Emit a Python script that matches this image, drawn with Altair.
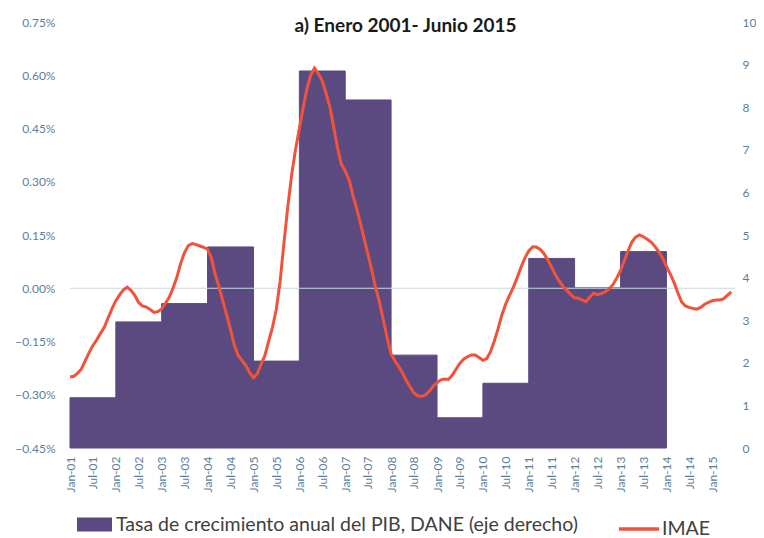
import altair as alt
import pandas as pd

# ---------------- data ----------------
bar_years = list(range(2001, 2014))
bar_values = [1.18, 2.96, 3.39, 4.72, 2.04, 8.85, 8.17, 2.18, 0.71, 1.52, 4.45, 3.76, 4.61]
bar_label = "Tasa de crecimiento anual del PIB, DANE (eje derecho)"

imae_start = (2001, 1)
imae_values = [
    -0.250, -0.248, -0.240, -0.228, -0.205, -0.182, -0.162, -0.146, -0.127, -0.110, -0.083, -0.058,
    -0.035, -0.018, -0.005, 0.003, -0.006, -0.020, -0.040, -0.050, -0.053, -0.060, -0.068, -0.066,
    -0.058, -0.042, -0.026, 0.000, 0.030, 0.070, 0.100, 0.120, 0.126, 0.123, 0.119, 0.115,
    0.110, 0.085, 0.040, 0.004, -0.035, -0.075, -0.115, -0.160, -0.190, -0.203, -0.218, -0.238,
    -0.252, -0.240, -0.215, -0.190, -0.150, -0.110, -0.060, 0.020, 0.130, 0.230, 0.320, 0.390,
    0.450, 0.510, 0.560, 0.600, 0.620, 0.605, 0.585, 0.550, 0.510, 0.455, 0.395, 0.350,
    0.330, 0.305, 0.265, 0.225, 0.185, 0.140, 0.095, 0.050, 0.000, -0.040, -0.090, -0.140,
    -0.185, -0.205, -0.220, -0.238, -0.260, -0.278, -0.295, -0.303, -0.305, -0.300, -0.290, -0.276,
    -0.266, -0.258, -0.256, -0.257, -0.245, -0.228, -0.212, -0.200, -0.193, -0.188, -0.188, -0.195,
    -0.203, -0.198, -0.180, -0.150, -0.115, -0.075, -0.045, -0.020, 0.003, 0.030, 0.060, 0.085,
    0.105, 0.117, 0.116, 0.110, 0.098, 0.080, 0.060, 0.038, 0.020, 0.005, -0.006, -0.018,
    -0.027, -0.028, -0.033, -0.038, -0.025, -0.014, -0.018, -0.015, -0.010, -0.002, 0.010, 0.028,
    0.050, 0.078, 0.105, 0.130, 0.144, 0.150, 0.145, 0.138, 0.130, 0.118, 0.103, 0.085,
    0.062, 0.040, 0.018, -0.012, -0.038, -0.050, -0.054, -0.057, -0.059, -0.054, -0.045, -0.040,
    -0.035, -0.033, -0.033, -0.030, -0.020, -0.010,
]

left_ticks = [-0.45, -0.30, -0.15, 0.00, 0.15, 0.30, 0.45, 0.60, 0.75]
right_ticks = list(range(0, 11))
zero_line = [0.0]

# ---------------- frames ----------------
bars = pd.DataFrame({
    "start": [f"{y}/01/01" for y in bar_years],
    "end": [f"{y + 1}/01/01" for y in bar_years],
    "valor": bar_values,
    "serie": bar_label,
})

dates = []
y0, m0 = imae_start
for i in range(len(imae_values)):
    mm = m0 - 1 + i
    dates.append(f"{y0 + mm // 12}/{mm % 12 + 1:02d}/01")
line = pd.DataFrame({"date": dates, "imae": imae_values, "serie": "IMAE"})
rule = pd.DataFrame({"y": zero_line})

# ---------------- style ----------------
PURPLE = "#5B4A80"
RED = "#F0533A"
AXIS_COL = "#5a7f9e"
FONT = "Lato"

x_domain = [alt.DateTime(year=2001, month=1, date=1), alt.DateTime(year=2015, month=7, date=1)]
x_ticks = [alt.DateTime(year=y, month=m, date=1)
           for y in range(2001, 2016) for m in (1, 7) if not (y == 2015 and m == 7)]


def x_axis():
    return alt.Axis(values=x_ticks, format="%b-%y", labelAngle=-90, labelAlign="right",
                    labelBaseline="middle", labelPadding=8, ticks=False, domain=False,
                    grid=False, labelFont=FONT, labelFontSize=12, labelColor=AXIS_COL,
                    labelOverlap=False, labelFlush=False, title=None)


bar_layer = alt.Chart(bars).mark_bar(color=PURPLE, stroke=PURPLE, strokeWidth=1).encode(
    x=alt.X("start:T", scale=alt.Scale(domain=x_domain), axis=x_axis()),
    x2="end:T",
    y=alt.Y("valor:Q", scale=alt.Scale(domain=[0, 10]),
            axis=alt.Axis(orient="right", values=right_ticks, title=None, ticks=False,
                          domain=False, grid=False, labelFont=FONT, labelFontSize=12,
                          labelColor=AXIS_COL, labelAlign="left", labelPadding=7)),
    y2=alt.datum(0),
    fill=alt.Fill("serie:N", scale=alt.Scale(domain=[bar_label], range=[PURPLE]),
                  legend=alt.Legend(orient="none", legendX=7, legendY=485, title=None,
                                    symbolType="M-1,-0.4H1V0.4H-1Z", symbolSize=1225,
                                    symbolStrokeWidth=0, labelFont=FONT, labelFontSize=19.5,
                                    labelColor="#404040", labelOffset=4, padding=0,
                                    labelLimit=0)),
)

rule_layer = alt.Chart(rule).mark_rule(color="#c9d6df", strokeWidth=1).encode(
    y=alt.Y("y:Q", scale=alt.Scale(domain=[-0.45, 0.75]), axis=None),
)

line_layer = alt.Chart(line).mark_line(strokeWidth=3).encode(
    x=alt.X("date:T", scale=alt.Scale(domain=x_domain), axis=x_axis()),
    y=alt.Y("imae:Q", scale=alt.Scale(domain=[-0.45, 0.75]),
            axis=alt.Axis(orient="left", values=left_ticks, title=None, ticks=False,
                          domain=False, grid=False, labelFont=FONT, labelFontSize=12,
                          labelColor=AXIS_COL, labelPadding=15,
                          labelExpr="format(datum.value, '.2f') + '%'")),
    stroke=alt.Stroke("serie:N", scale=alt.Scale(domain=["IMAE"], range=[RED]),
                      legend=alt.Legend(orient="none", legendX=547, legendY=485, title=None,
                                        symbolType="stroke", symbolSize=1600,
                                        symbolStrokeWidth=3.5, labelFont=FONT,
                                        labelFontSize=19.5, labelColor="#404040",
                                        labelOffset=1, padding=0, labelLimit=0)),
)

chart = alt.layer(bar_layer, rule_layer, line_layer).resolve_scale(
    y="independent"
).properties(
    width=665,
    height=426,
    title=alt.TitleParams("a) Enero 2001- Junio 2015", font=FONT, fontSize=19,
                          fontWeight="bold", color="#1a1a1a", anchor="middle",
                          offset=-20, dx=3),
    autosize=alt.AutoSizeParams(type="none"),
    padding={"left": 62, "top": 14, "right": 21, "bottom": 90},
).configure_view(stroke=None)

chart.save("out.html", embed_options={"renderer": "svg", "actions": False})
